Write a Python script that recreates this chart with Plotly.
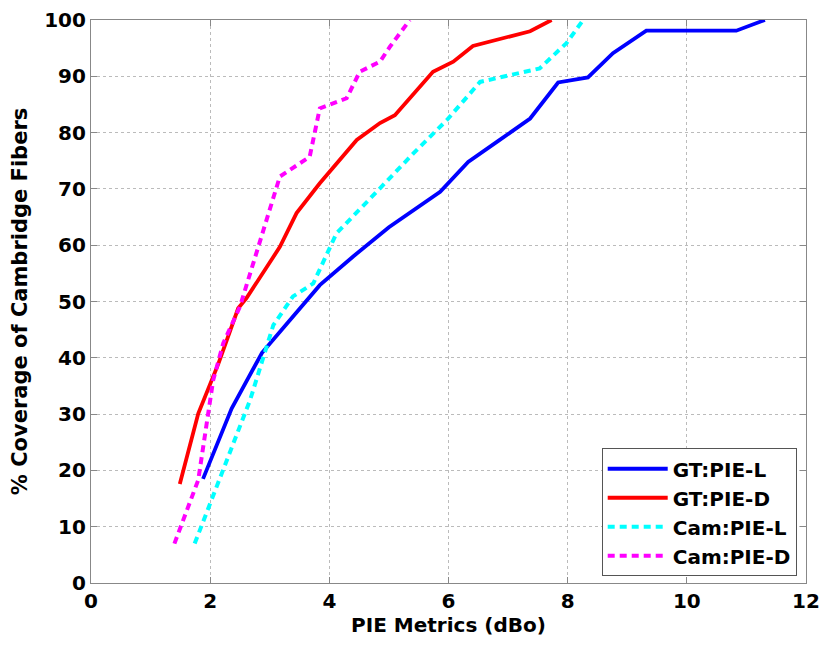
import plotly.graph_objects as go

gt_l_x = [1.88, 2.36, 2.87, 3.84, 4.4, 5.0, 5.86, 6.33, 6.86, 7.37, 7.84, 8.34, 8.76, 9.32, 10.83, 11.31]
gt_l_y = [18.5, 31.0, 40.9, 52.9, 58.0, 63.2, 69.5, 74.8, 78.7, 82.5, 88.9, 89.8, 94.1, 98.1, 98.1, 100.0]

gt_d_x = [1.49, 1.8, 2.14, 2.47, 2.61, 3.17, 3.45, 3.84, 4.46, 4.85, 5.1, 5.74, 6.08, 6.41, 7.37, 7.73]
gt_d_y = [17.6, 30.1, 39.0, 48.8, 50.6, 59.7, 65.7, 71.0, 78.7, 81.7, 83.1, 90.8, 92.6, 95.4, 98.0, 100.0]

cam_l_x = [1.74, 2.67, 3.06, 3.39, 3.73, 4.12, 4.85, 5.41, 5.97, 6.53, 7.53, 7.98, 8.26]
cam_l_y = [7.0, 32.5, 45.8, 50.9, 53.2, 62.1, 70.1, 76.3, 82.2, 89.0, 91.4, 95.9, 100.0]

cam_d_x = [1.4, 1.8, 2.05, 2.22, 2.5, 2.84, 3.06, 3.17, 3.67, 3.84, 4.29, 4.51, 4.85, 5.02, 5.35]
cam_d_y = [7.0, 18.3, 36.0, 42.6, 49.1, 60.9, 68.0, 72.2, 75.7, 84.3, 86.1, 90.8, 92.6, 95.3, 100.0]

x_ticks = [0, 2, 4, 6, 8, 10, 12]
y_ticks = [0, 10, 20, 30, 40, 50, 60, 70, 80, 90, 100]

fig = go.Figure()
fig.add_trace(go.Scatter(x=gt_l_x, y=gt_l_y, mode="lines", name="GT:PIE-L",
                         line=dict(color="#0000ff", width=3.8)))
fig.add_trace(go.Scatter(x=gt_d_x, y=gt_d_y, mode="lines", name="GT:PIE-D",
                         line=dict(color="#ff0000", width=3.8)))
fig.add_trace(go.Scatter(x=cam_l_x, y=cam_l_y, mode="lines", name="Cam:PIE-L",
                         line=dict(color="#00ffff", width=4, dash="7px,5px")))
fig.add_trace(go.Scatter(x=cam_d_x, y=cam_d_y, mode="lines", name="Cam:PIE-D",
                         line=dict(color="#ff00ff", width=4, dash="7px,5px")))

font_family = "DejaVu Sans, sans-serif"
axis_common = dict(
    showline=True, linecolor="#888888", linewidth=1.2, mirror="ticks",
    ticks="inside", ticklen=6, tickcolor="#888888",
    showgrid=True, gridcolor="#bbbbbb", griddash="dot", gridwidth=1,
    zeroline=False, automargin=False,
    tickfont=dict(family=font_family, size=20, color="black", weight="bold"),
)

fig.update_layout(
    width=820, height=645,
    margin=dict(l=91, r=14, t=20, b=62),
    paper_bgcolor="white", plot_bgcolor="white",
    xaxis=dict(range=[0, 12], tickvals=x_ticks, **axis_common,
               title=dict(text="PIE Metrics (dBo)", standoff=2,
                          font=dict(family=font_family, size=20, color="black", weight="bold"))),
    yaxis=dict(range=[0, 100], tickvals=y_ticks, **axis_common,
               title=dict(text="% Coverage of Cambridge Fibers", standoff=10,
                          font=dict(family=font_family, size=21, color="black", weight="bold"))),
    legend=dict(x=0.987, y=0.012, xanchor="right", yanchor="bottom",
                bgcolor="white", bordercolor="#555555", borderwidth=1,
                font=dict(family=font_family, size=20, color="black", weight="bold"),
                tracegroupgap=0, itemwidth=60),
    showlegend=True,
)

fig.write_html("out.html")
